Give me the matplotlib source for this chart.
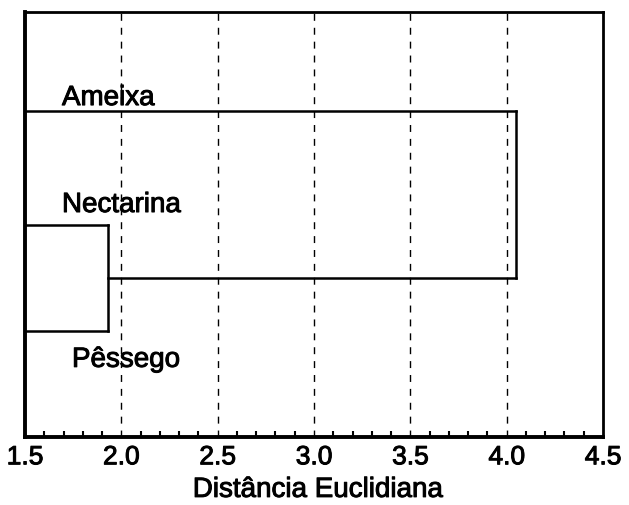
import numpy as np
import matplotlib.pyplot as plt
import matplotlib.patheffects as pe
from matplotlib.ticker import MultipleLocator

plt.rcParams['font.family'] = ['Liberation Sans', 'DejaVu Sans']

# leaves (top to bottom) and their vertical positions
leaves = ['Ameixa', 'Nectarina', 'Pêssego']
leaf_y = [3.07, 2.0, 1.0]
# merge distances
merge_np = 1.93   # Nectarina + Pêssego
merge_all = 4.05  # Ameixa + (Nectarina, Pêssego)
tick_vals = [1.5, 2.0, 2.5, 3.0, 3.5, 4.0, 4.5]
tick_labels = ['1.5', '2.0', '2.5', '3.0', '3.5', '4.0', '4.5']

heavy = [pe.withStroke(linewidth=0.7, foreground='black')]

fig = plt.figure(figsize=(6.29, 5.05), dpi=100)
ax = fig.add_axes([0.0397, 0.1347, 0.9190, 0.8413])

lw = 1.8
# Nectarina / Pêssego cluster
ax.plot([0, merge_np], [leaf_y[1], leaf_y[1]], color='black', lw=lw)
ax.plot([0, merge_np], [leaf_y[2], leaf_y[2]], color='black', lw=lw)
ax.plot([merge_np, merge_np], [leaf_y[2], leaf_y[1]], color='black', lw=lw)
mid = (leaf_y[1] + leaf_y[2]) / 2
# join with Ameixa
ax.plot([merge_np, merge_all], [mid, mid], color='black', lw=lw)
ax.plot([0, merge_all], [leaf_y[0], leaf_y[0]], color='black', lw=lw)
ax.plot([merge_all, merge_all], [mid, leaf_y[0]], color='black', lw=lw)

# leaf labels
label_x = [1.692, 1.692, 1.744]
label_dy = [0.055, 0.118, -0.34]
for name, y, lx, dy in zip(leaves, leaf_y, label_x, label_dy):
    ax.text(lx, y + dy, name, fontsize=20, ha='left', va='baseline',
            path_effects=heavy)

ax.set_xlim(1.5, 4.5)
ax.set_ylim(0, 4)
ax.set_yticks([])
ax.xaxis.set_minor_locator(MultipleLocator(0.1))
ax.set_xticks(tick_vals)
ax.set_xticklabels(tick_labels)
ax.tick_params(axis='x', which='major', direction='in', length=0,
               labelsize=19, pad=6)
ax.tick_params(axis='x', which='minor', direction='in', length=4, width=1.5)
for t in ax.get_xticklabels():
    t.set_path_effects(heavy)

for gx in tick_vals[1:-1]:
    ax.axvline(gx, color='black', lw=1, ls=(0, (5, 5)))

ax.spines['left'].set_linewidth(2.8)
ax.spines['bottom'].set_linewidth(2.8)
ax.spines['top'].set_linewidth(2)
ax.spines['right'].set_linewidth(2)

fig.text(0.505, 0.016, 'Distância Euclidiana', fontsize=20, ha='center',
         va='baseline', path_effects=heavy)

fig.savefig('out.png', dpi=100)
